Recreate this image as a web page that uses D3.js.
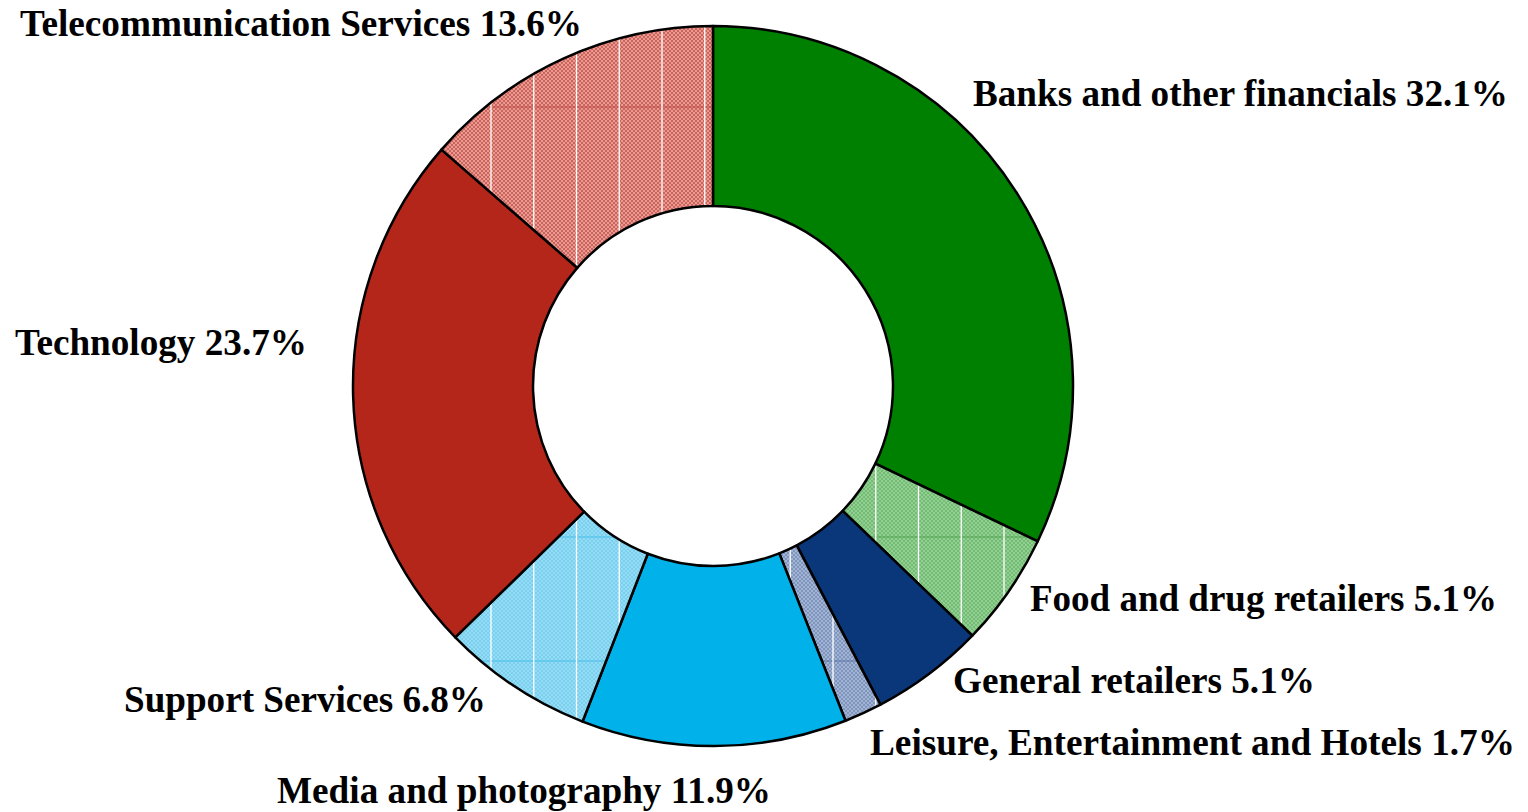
<!DOCTYPE html>
<html>
<head>
<meta charset="utf-8">
<script src="https://cdn.jsdelivr.net/npm/d3@7"></script>
<style>
  html, body { margin: 0; padding: 0; background: #ffffff; }
  svg { display: block; }
  .lbl { font-family: "Liberation Serif", "Times New Roman", serif; font-weight: bold; fill: #000; }
</style>
</head>
<body>
<svg id="chart" width="1528" height="812"></svg>
<script>
// Sector weights, clockwise from 12 o'clock
const sectors = [
  "Banks and other financials",
  "Food and drug retailers",
  "General retailers",
  "Leisure, Entertainment and Hotels",
  "Media and photography",
  "Support Services",
  "Technology",
  "Telecommunication Services"
];
const shares = [32.1, 5.1, 5.1, 1.7, 11.9, 6.8, 23.7, 13.6];
const valueLabels = ["32.1%", "5.1%", "5.1%", "1.7%", "11.9%", "6.8%", "23.7%", "13.6%"];

// Fill style per sector: solid colour, or a dithered two-tone texture
const fills = [
  { solid: "#008000" },
  { a: "#92cf92", b: "#74bb74", line: "#4a9a4a" },
  { solid: "#0a377a" },
  { a: "#a2b4d4", b: "#8095bd", line: "#4d6aa0" },
  { solid: "#00b2e9" },
  { a: "#96dcf5", b: "#78cfee", line: "#3ab8e8" },
  { solid: "#b5261a" },
  { a: "#e99a93", b: "#cc645c", line: "#b8473e" }
];

// Label placement per sector (same order): left edge, baseline, rendered width
const labelXY = [
  [973, 106, 535],
  [1030, 611, 467],
  [953, 693, 362],
  [870, 755, 645],
  [277, 803, 494],
  [124, 712, 362],
  [15, 355, 292],
  [20, 36, 562]
];

const svg = d3.select("#chart");
const cx = 713, cy = 386, rOuter = 360, rInner = 180;

const defs = svg.append("defs");
fills.forEach((f, i) => {
  if (f.solid) return;
  const p = defs.append("pattern")
    .attr("id", "tex" + i)
    .attr("patternUnits", "userSpaceOnUse")
    .attr("width", 4).attr("height", 4);
  p.append("rect").attr("width", 4).attr("height", 4).attr("fill", f.a);
  p.append("rect").attr("width", 2).attr("height", 2).attr("fill", f.b);
  p.append("rect").attr("x", 2).attr("y", 2).attr("width", 2).attr("height", 2).attr("fill", f.b);
});

const pie = d3.pie().sort(null).value(d => d)(shares);
const arc = d3.arc().innerRadius(rInner).outerRadius(rOuter);

const g = svg.append("g").attr("transform", `translate(${cx},${cy})`);

// clip paths for the texture streaks
pie.forEach((d, i) => {
  defs.append("clipPath").attr("id", "clip" + i)
    .append("path").attr("d", arc(d));
});

const slices = g.selectAll("g.slice").data(pie).join("g").attr("class", "slice");

slices.append("path")
  .attr("d", arc)
  .attr("fill", (d, i) => fills[i].solid || `url(#tex${i})`);

// streaks inside textured sectors: white verticals and a faint horizontal rule
const streakX = d3.range(-222, 300, 42.75);
const streakY = [-279, 151, 275];
slices.each(function (d, i) {
  const f = fills[i];
  if (f.solid) return;
  const s = d3.select(this).append("g").attr("clip-path", `url(#clip${i})`);
  s.selectAll("line.h").data(streakY).join("line")
    .attr("x1", -rOuter).attr("x2", rOuter)
    .attr("y1", y => y).attr("y2", y => y)
    .attr("stroke", f.line).attr("stroke-width", 1).attr("opacity", 0.8);
  s.selectAll("line.v").data(streakX).join("line")
    .attr("x1", x => x).attr("x2", x => x)
    .attr("y1", -rOuter).attr("y2", rOuter)
    .attr("stroke", "#ffffff").attr("stroke-width", 1.3);
});

slices.append("path")
  .attr("d", arc)
  .attr("fill", "none")
  .attr("stroke", "#000")
  .attr("stroke-width", 2.5)
  .attr("stroke-linejoin", "round");

// labels
svg.selectAll("text.lbl").data(pie).join("text")
  .attr("class", "lbl")
  .attr("x", (d, i) => labelXY[i][0])
  .attr("y", (d, i) => labelXY[i][1])
  .attr("font-size", 37)
  .attr("textLength", (d, i) => labelXY[i][2])
  .attr("lengthAdjust", "spacingAndGlyphs")
  .text((d, i) => `${sectors[i]} ${valueLabels[i]}`);
</script>
</body>
</html>
